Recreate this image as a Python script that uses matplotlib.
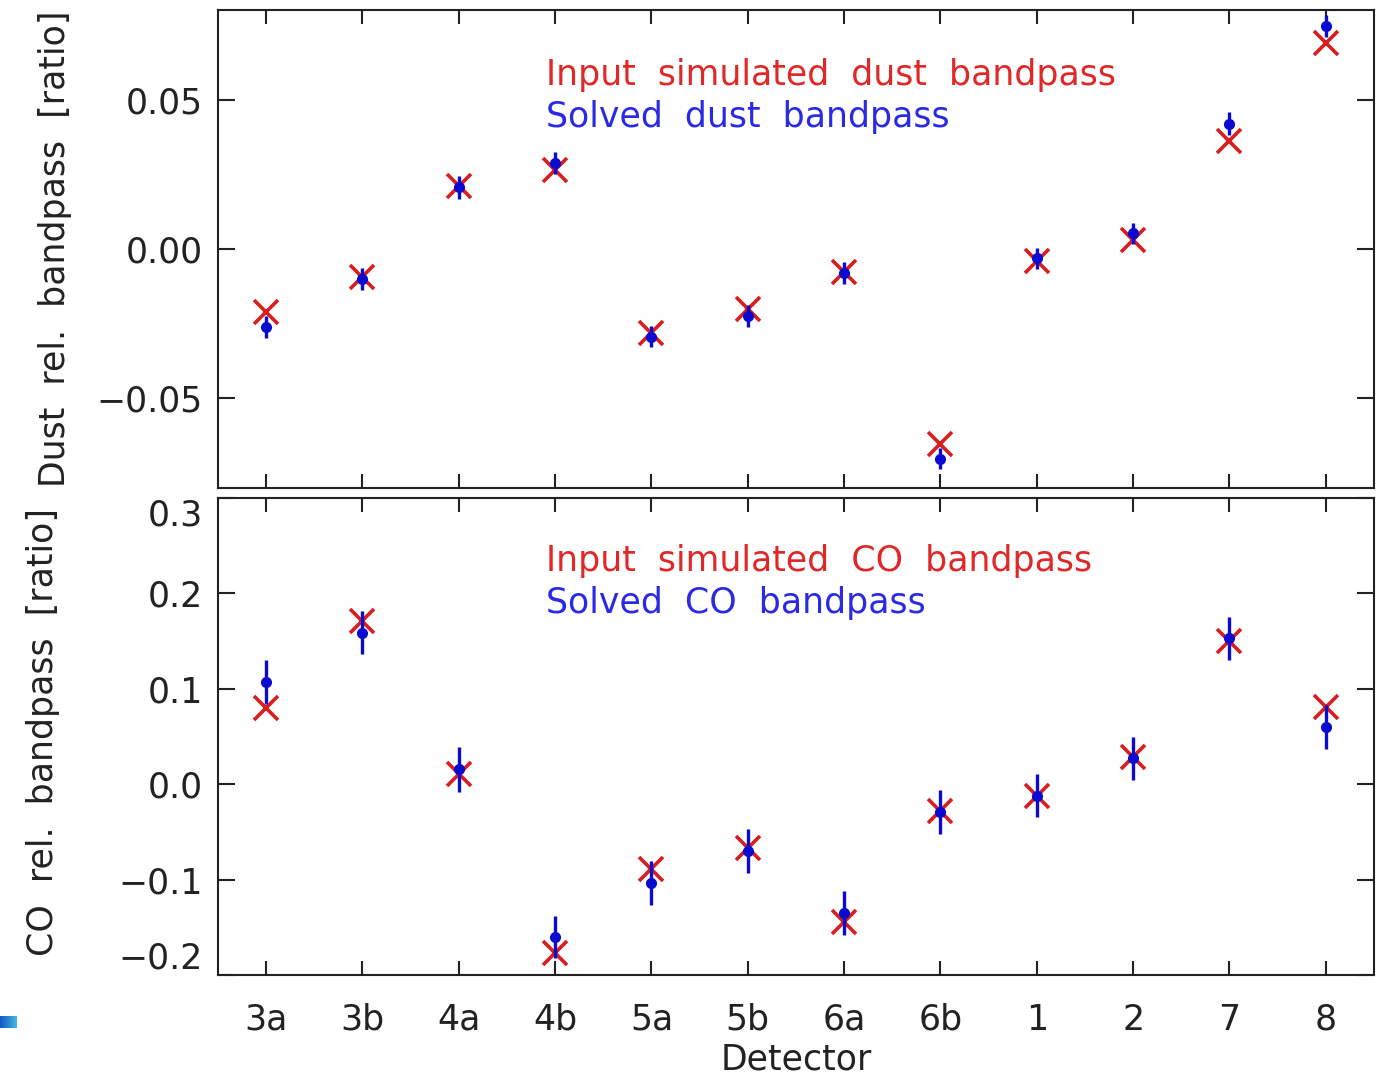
import numpy as np
import matplotlib
matplotlib.use("Agg")
import matplotlib.pyplot as plt
from matplotlib.colors import LinearSegmentedColormap

detectors = ["3a", "3b", "4a", "4b", "5a", "5b", "6a", "6b", "1", "2", "7", "8"]

dust_input = [-0.0210, -0.0093, 0.0212, 0.0266, -0.0282, -0.0201,
              -0.0078, -0.0653, -0.0039, 0.0030, 0.0361, 0.0688]
dust_solved = [-0.0262, -0.0101, 0.0206, 0.0289, -0.0293, -0.0224,
               -0.0081, -0.0702, -0.0031, 0.0052, 0.0420, 0.0747]
dust_err = [0.0037, 0.0037, 0.0038, 0.0037, 0.0036, 0.0037,
            0.0036, 0.0035, 0.0036, 0.0036, 0.0037, 0.0036]

co_input = [0.080, 0.171, 0.0105, -0.177, -0.089, -0.067,
            -0.144, -0.028, -0.012, 0.028, 0.150, 0.081]
co_solved = [0.107, 0.159, 0.0157, -0.1605, -0.104, -0.070,
             -0.135, -0.029, -0.012, 0.027, 0.153, 0.060]
co_err = [0.0227, 0.0227, 0.0236, 0.022, 0.023, 0.0227,
          0.0227, 0.0227, 0.0227, 0.0227, 0.0227, 0.0227]

dust_yticks = [-0.05, 0.0, 0.05]
dust_yticklabels = ["\u22120.05", "0.00", "0.05"]
co_yticks = [-0.2, -0.1, 0.0, 0.1, 0.2, 0.3]
co_yticklabels = ["\u22120.2", "\u22120.1", "0.0", "0.1", "0.2", "0.3"]

RED = "#d81e1e"
BLUE = "#0a0ad0"
TXT_RED = "#e02828"
TXT_BLUE = "#2a2ae6"
FS = 25

plt.rcParams["font.family"] = ["DejaVu Sans"]

W, H = 1376, 1078
fig = plt.figure(figsize=(W / 100, H / 100), dpi=100)

def fx(px):
    return px / W

def fy(py):
    return 1 - py / H

L, R = 218, 1374
ax1 = fig.add_axes([fx(L), fy(488), fx(R) - fx(L), fy(10) - fy(488)])
ax2 = fig.add_axes([fx(L), fy(975), fx(R) - fx(L), fy(498) - fy(975)])

x = np.arange(len(detectors))

def style(ax):
    for s in ax.spines.values():
        s.set_linewidth(1.5)
        s.set_color("#222222")
    ax.set_xlim(-0.5, len(detectors) - 0.5)
    ax.set_xticks(x)
    ax.tick_params(axis="both", direction="in", top=True, right=True,
                   colors="#222222", labelcolor="#222222", width=1.5,
                   labelsize=FS)
    ax.tick_params(axis="x", length=10, pad=20)
    ax.tick_params(axis="y", length=12, pad=11)
    ax.minorticks_off()

def draw(ax, inp, sol, err):
    ax.plot(x, inp, linestyle="none", marker="x", markersize=17,
            markeredgewidth=2.6, color=RED, zorder=3)
    ax.errorbar(x, sol, yerr=err, fmt="o", color=BLUE, ecolor=BLUE,
                markersize=7, elinewidth=2.4, capsize=0, zorder=4)

# top panel
style(ax1)
draw(ax1, dust_input, dust_solved, dust_err)
ax1.set_ylim(-0.08, 0.08)
ax1.set_yticks(dust_yticks)
ax1.set_yticklabels(dust_yticklabels)
ax1.tick_params(axis="x", labelbottom=False)
ax1.set_ylabel("Dust  rel.  bandpass  [ratio]", fontsize=FS, color="#222222")
ax1.yaxis.set_label_coords(-0.126, 0.5)
ax1.text(0.2837, 0.843, "Input  simulated  dust  bandpass", transform=ax1.transAxes,
         color=TXT_RED, fontsize=FS, ha="left", va="baseline")
ax1.text(0.2837, 0.755, "Solved  dust  bandpass", transform=ax1.transAxes,
         color=TXT_BLUE, fontsize=FS, ha="left", va="baseline")

# bottom panel
style(ax2)
draw(ax2, co_input, co_solved, co_err)
ax2.set_ylim(-0.2, 0.3)
ax2.set_yticks(co_yticks)
ax2.set_yticklabels(co_yticklabels)
labs = ax2.get_yticklabels()
labs[0].set_va("bottom")
labs[-1].set_va("top")
ax2.set_xticklabels(detectors)
ax2.set_xlabel("Detector", fontsize=FS, color="#222222", labelpad=4)
ax2.set_ylabel("CO  rel.  bandpass  [ratio]", fontsize=FS, color="#222222")
ax2.yaxis.set_label_coords(-0.137, 0.51)
ax2.text(0.2837, 0.847, "Input  simulated  CO  bandpass", transform=ax2.transAxes,
         color=TXT_RED, fontsize=FS, ha="left", va="baseline")
ax2.text(0.2837, 0.759, "Solved  CO  bandpass", transform=ax2.transAxes,
         color=TXT_BLUE, fontsize=FS, ha="left", va="baseline")

# small gradient artifact at lower left
axg = fig.add_axes([0, fy(1028), fx(17), fy(1016) - fy(1028)])
grad = np.linspace(0, 1, 64).reshape(1, -1)
cm = LinearSegmentedColormap.from_list("g", ["#1058c0", "#48b8e8"])
axg.imshow(grad, aspect="auto", cmap=cm)
axg.axis("off")

fig.savefig("out.png", dpi=100)
